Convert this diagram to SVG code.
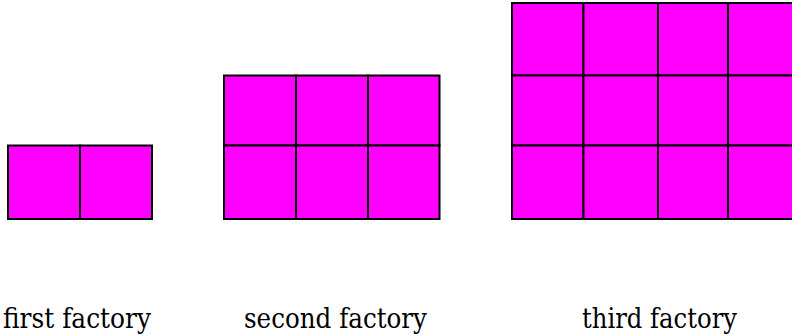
<svg xmlns="http://www.w3.org/2000/svg" width="792" height="335" viewBox="0 0 792 335">
<style>
.cell{fill:#ff00ff;stroke:#000;stroke-width:2}
.lbl{font-family:'DejaVu Serif','Liberation Serif',serif;font-size:28px;fill:#000}
</style>
<rect width="792" height="335" fill="#fff"/>
<g id="first-factory">
<rect class="cell" x="8" y="145.5" width="72" height="73.5"/>
<rect class="cell" x="80" y="145.5" width="72" height="73.5"/>
<text class="lbl" x="3" y="328" textLength="148" lengthAdjust="spacingAndGlyphs">first factory</text>
</g>
<g id="second-factory">
<rect class="cell" x="224" y="75.5" width="72" height="70"/>
<rect class="cell" x="296" y="75.5" width="72" height="70"/>
<rect class="cell" x="368" y="75.5" width="71.5" height="70"/>
<rect class="cell" x="224" y="145.5" width="72" height="73.5"/>
<rect class="cell" x="296" y="145.5" width="72" height="73.5"/>
<rect class="cell" x="368" y="145.5" width="71.5" height="73.5"/>
<text class="lbl" x="244" y="328" textLength="183" lengthAdjust="spacingAndGlyphs">second factory</text>
</g>
<g id="third-factory">
<rect class="cell" x="512" y="3" width="71.5" height="72.5"/>
<rect class="cell" x="583.5" y="3" width="74.5" height="72.5"/>
<rect class="cell" x="658" y="3" width="70" height="72.5"/>
<rect class="cell" x="728" y="3" width="72" height="72.5"/>
<rect class="cell" x="512" y="75.5" width="71.5" height="70"/>
<rect class="cell" x="583.5" y="75.5" width="74.5" height="70"/>
<rect class="cell" x="658" y="75.5" width="70" height="70"/>
<rect class="cell" x="728" y="75.5" width="72" height="70"/>
<rect class="cell" x="512" y="145.5" width="71.5" height="73.5"/>
<rect class="cell" x="583.5" y="145.5" width="74.5" height="73.5"/>
<rect class="cell" x="658" y="145.5" width="70" height="73.5"/>
<rect class="cell" x="728" y="145.5" width="72" height="73.5"/>
<text class="lbl" x="582" y="328" textLength="155" lengthAdjust="spacingAndGlyphs">third factory</text>
</g>
<g id="connectors"/>
</svg>
